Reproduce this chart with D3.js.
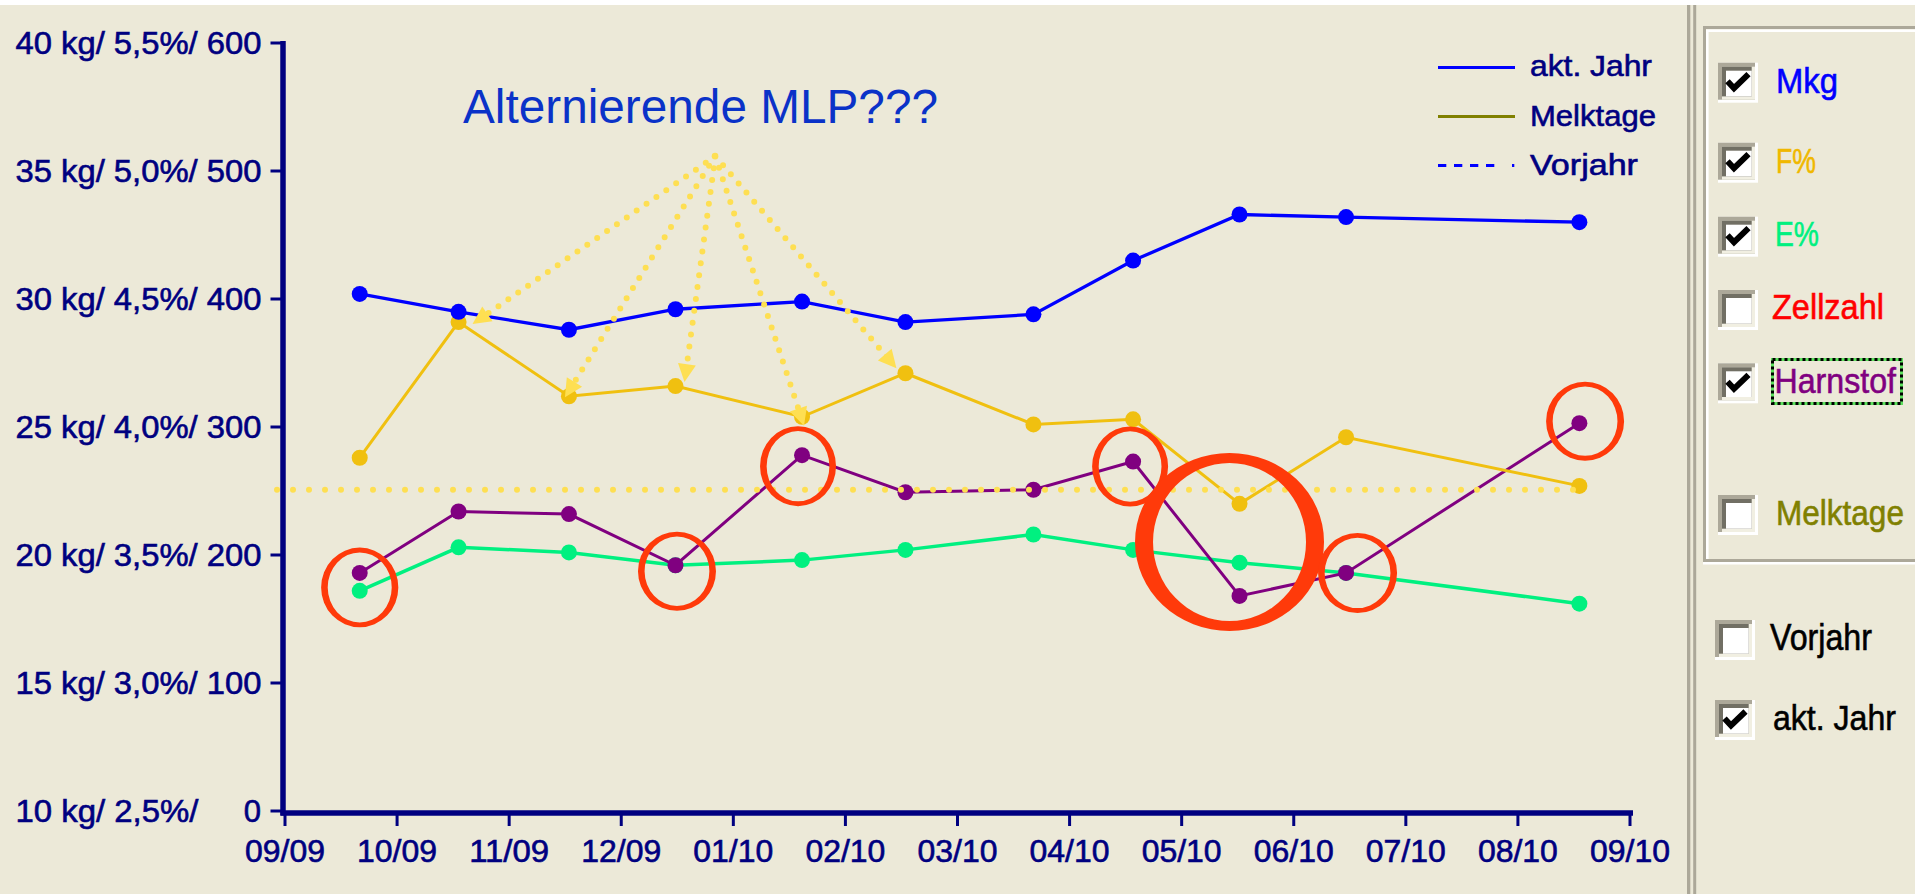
<!DOCTYPE html>
<html><head><meta charset="utf-8">
<script src="https://cdn.jsdelivr.net/npm/d3@7/dist/d3.min.js"></script>
<style>
html,body{margin:0;padding:0;background:#ECE9D8;overflow:hidden}
svg{display:block}
text{font-family:"Liberation Sans",Arial,sans-serif}
text.px{stroke-width:0.6}
</style></head><body>
<svg id="c" width="1915" height="894"></svg>
<script>
// ---------- data ----------
const sampleDates = ["2009-09-21","2009-10-18","2009-11-17","2009-12-16","2010-01-20","2010-02-16","2010-03-22","2010-04-18","2010-05-17","2010-06-15","2010-08-18"];
const mkg       = [30.2, 29.5, 28.8, 29.6, 29.9, 29.1, 29.4, 31.5, 33.3, 33.2, 33.0];
const fettPct   = [3.88, 4.41, 4.12, 4.16, 4.04, 4.21, 4.01, 4.03, 3.70, 3.96, 3.77];
const eiweissPct= [3.36, 3.53, 3.51, 3.46, 3.48, 3.52, 3.58, 3.52, 3.47, 3.43, 3.31];
const harnstoff = [186, 234, 232, 192, 278, 249, 251, 273, 168, 186, 303];
const vorjahrRef = 3.755;   // dotted reference line (% scale)
const monthLabels = ["09/09","10/09","11/09","12/09","01/10","02/10","03/10","04/10","05/10","06/10","07/10","08/10","09/10"];
const yTickKg   = [10, 15, 20, 25, 30, 35, 40];
const yTickPct  = ["2,5","3,0","3,5","4,0","4,5","5,0","5,5"];
const yTickHarn = [0, 100, 200, 300, 400, 500, 600];
const annotationText = "Alternierende MLP???";
const legendItems = ["akt. Jahr","Melktage","Vorjahr"];
const panelItems = ["Mkg","F%","E%","Zellzahl","Harnstof","Melktage"];
const panelChecked = [true,true,true,false,true,false];
const yearItems = ["Vorjahr","akt. Jahr"];
const yearChecked = [false,true];

// ---------- setup ----------
const svg = d3.select("#c");
const W = 1915, H = 894;
const navy = "#000080";
svg.append("rect").attr("width",W).attr("height",H).attr("fill","#ECE9D8");
svg.append("rect").attr("width",W).attr("height",5).attr("fill","#FFFFFF");

const parse = d3.timeParse("%Y-%m-%d");
const monthPos = s => {
  const d = parse(s), m0 = d3.timeMonth.floor(d), m1 = d3.timeMonth.offset(m0,1);
  return (d.getFullYear()-2009)*12 + d.getMonth() - 8 + (d - m0)/(m1 - m0);
};
const x = d3.scaleLinear().domain([0,12]).range([285,1630]);
const yKg = d3.scaleLinear().domain([10,40]).range([811,43]);
const yPct = d3.scaleLinear().domain([2.5,5.5]).range([811,43]);
const yHarn = d3.scaleLinear().domain([0,600]).range([811,43]);

// text squeezed horizontally to a given width (pixel-font look)
function ptext(g, t, xx, yy, size, color, len, anchor){
  const e = g.append("text").attr("class","px").attr("font-size",size)
    .attr("fill",color).attr("stroke",color).text(t);
  if (anchor) e.attr("text-anchor",anchor);
  let sx = 1;
  if (len) { const w = e.node().getComputedTextLength(); if (w>0) sx = len / w; }
  e.attr("transform",`translate(${xx},${yy}) scale(${sx},1)`);
  return e;
}

// ---------- axes ----------
const ax = svg.append("g");
ax.append("line").attr("x1",283).attr("x2",283).attr("y1",41).attr("y2",815.5)
  .attr("stroke",navy).attr("stroke-width",5.5);
ax.append("line").attr("x1",280.5).attr("x2",x(12)+3).attr("y1",813).attr("y2",813)
  .attr("stroke",navy).attr("stroke-width",5.5);
yTickHarn.forEach((v,i)=>{
  const yy = yHarn(v);
  ax.append("line").attr("x1",270.5).attr("x2",283).attr("y1",yy).attr("y2",yy)
    .attr("stroke",navy).attr("stroke-width",3);
  if (v === 0) {
    ptext(ax, yTickKg[i]+" kg/ "+yTickPct[i]+"%/", 15.5, yy+10.5, 31, navy, 183);
    ptext(ax, String(v), 261, yy+10.5, 31, navy, null, "end");
  } else {
    ptext(ax, yTickKg[i]+" kg/ "+yTickPct[i]+"%/ "+v, 15.5, yy+10.5, 31, navy, 246);
  }
});
monthLabels.forEach((lab,i)=>{
  const xx = x(i);
  ax.append("line").attr("x1",xx).attr("x2",xx).attr("y1",813).attr("y2",826)
    .attr("stroke",navy).attr("stroke-width",3);
  ptext(ax, lab, xx-40, 862, 31, navy, 80);
});

// ---------- series ----------
const series = [
  {vals: eiweissPct, y: yPct, color: "#00F080", w: 3.5},
  {vals: harnstoff,  y: yHarn, color: "#800080", w: 3},
  {vals: fettPct,    y: yPct, color: "#F0C010", w: 3},
  {vals: mkg,        y: yKg,  color: "#0000FF", w: 3.3}
];
series.forEach(s=>{
  const pts = s.vals.map((v,i)=>[x(monthPos(sampleDates[i])), s.y(v)]);
  svg.append("path").attr("d", d3.line()(pts)).attr("fill","none")
    .attr("stroke",s.color).attr("stroke-width",s.w);
  svg.append("g").selectAll("circle").data(pts).join("circle")
    .attr("cx",d=>d[0]).attr("cy",d=>d[1]).attr("r",8).attr("fill",s.color);
});

// ---------- annotations ----------
const annoYellow = "#FEDF52";
const firstX = x(0), lastX = x(monthPos(sampleDates[sampleDates.length-1]));
svg.append("line").attr("x1",firstX-8).attr("x2",lastX+1)
  .attr("y1",yPct(vorjahrRef)).attr("y2",yPct(vorjahrRef))
  .attr("stroke",annoYellow).attr("stroke-width",6).attr("stroke-linecap","round")
  .attr("stroke-dasharray","0 16");

// arrows from apex to F% points
const apex = [x(3.837), yPct(5.058)];
const arrows = [
  {idx:1, s:[-9.3,6.7],  t:[14,2]},
  {idx:2, s:[-6,9.7],    t:[-4,1]},
  {idx:3, s:[-1.3,12],   t:[9,-4]},
  {idx:4, s:[4,11.7],    t:[2,9]},
  {idx:5, s:[8,9],       t:[-9,-5]}
];
const ag = svg.append("g");
ag.append("circle").attr("cx",apex[0]).attr("cy",apex[1]).attr("r",3.3).attr("fill",annoYellow);
arrows.forEach(a=>{
  const px = x(monthPos(sampleDates[a.idx])), py = yPct(fettPct[a.idx]);
  const sx = apex[0]+a.s[0], sy = apex[1]+a.s[1];
  const tx = px+a.t[0], ty = py+a.t[1];
  const dx = tx-sx, dy = ty-sy, L = Math.hypot(dx,dy), ux = dx/L, uy = dy/L;
  const hl = 18, hw = 9;
  const bx = tx-ux*hl, by = ty-uy*hl;
  ag.append("line").attr("x1",sx).attr("y1",sy).attr("x2",bx+ux*3).attr("y2",by+uy*3)
    .attr("stroke",annoYellow).attr("stroke-width",6).attr("stroke-linecap","round")
    .attr("stroke-dasharray","0 12");
  ag.append("path").attr("d",`M${tx},${ty}L${bx-uy*hw},${by+ux*hw}L${bx+uy*hw},${by-ux*hw}Z`)
    .attr("fill",annoYellow);
});

// red rings around Harnstoff points
const rings = [
  {idx:0,  d:[0,14.5],   rx:38.6, ry:39.8, tx:6.6, ty:4.8},
  {idx:3,  d:[1.5,6],    rx:39,   ry:39.5, tx:6.6, ty:4.8},
  {idx:4,  d:[-4,11],    rx:38,   ry:40,   tx:6.6, ty:4.8},
  {idx:7,  d:[-3,5],     rx:38,   ry:40,   tx:6.6, ty:4.8},
  {idx:8,  d:[-10,-54],  rx:94.5, ry:89,   tx:18,  ty:10},
  {idx:9,  d:[11.5,0],   rx:39.5, ry:40,   tx:6.6, ty:4.8},
  {idx:10, d:[5.7,-2],   rx:39,   ry:39.5, tx:6.6, ty:4.8}
];
const ell = (cx,cy,rx,ry)=>`M${cx-rx},${cy}a${rx},${ry} 0 1,0 ${2*rx},0a${rx},${ry} 0 1,0 ${-2*rx},0Z`;
rings.forEach(r=>{
  const cx = x(monthPos(sampleDates[r.idx]))+r.d[0], cy = yHarn(harnstoff[r.idx])+r.d[1];
  svg.append("path").attr("d", ell(cx,cy,r.rx,r.ry)+ell(cx,cy,r.rx-r.tx,r.ry-r.ty))
    .attr("fill","#FF3A0A").attr("fill-rule","evenodd");
});

svg.append("text").attr("x",463).attr("y",123).attr("font-size",48).attr("fill","#0A32C8")
  .attr("textLength",475).attr("lengthAdjust","spacingAndGlyphs").text(annotationText);

// ---------- chart legend ----------
const lg = svg.append("g");
const legY = [67.5,116.5,165.5], legTxtY=[76,126,175], legW=[122,126,108];
const legColor = ["#0000FF","#808000","#0000FF"];
legendItems.forEach((t,i)=>{
  const ln = lg.append("line").attr("x1",1438).attr("x2",1515).attr("y1",legY[i]).attr("y2",legY[i])
    .attr("stroke",legColor[i]).attr("stroke-width",3);
  if (i===2) ln.attr("stroke-dasharray","8.3 7.7 8.3 7.7 8.3 7.7 8.3 17.7 2.3");
  ptext(lg, t, 1530, legTxtY[i], 30, navy, legW[i]);
});

// ---------- right panel ----------
const gray = "#ACA899";
const pn = svg.append("g");
pn.append("rect").attr("x",1687).attr("y",5).attr("width",3.3).attr("height",H).attr("fill",gray);
pn.append("rect").attr("x",1693.2).attr("y",5).attr("width",3).attr("height",H).attr("fill",gray);
// group box (etched)
pn.append("path").attr("d","M1915,27.5H1704.5V560.5H1915").attr("fill","none").attr("stroke",gray).attr("stroke-width",3);
pn.append("path").attr("d","M1915,30.8H1707.3V559").attr("fill","none").attr("stroke","#FFFFFF").attr("stroke-width",2.6);
pn.append("line").attr("x1",1703).attr("x2",1915).attr("y1",563.2).attr("y2",563.2).attr("stroke","#FFFFFF").attr("stroke-width",2.6);

function checkbox(x0,y0,checked){
  const g = pn.append("g").attr("transform",`translate(${x0},${y0})`);
  g.append("rect").attr("width",40).attr("height",40).attr("fill","#FFFFFF");
  g.append("rect").attr("width",37).attr("height",37).attr("fill",gray);
  g.append("rect").attr("x",4).attr("y",4).attr("width",33).attr("height",33).attr("fill","#F1EFE2");
  g.append("rect").attr("x",4).attr("y",4).attr("width",29.7).attr("height",29.7).attr("fill","#716F64");
  g.append("rect").attr("x",8).attr("y",8).attr("width",25.7).attr("height",25.7).attr("fill","#FFFFFF");
  if (checked) g.append("path").attr("d","M9.5,18.5L16,25.5L30.5,11.5").attr("fill","none")
    .attr("stroke","#000").attr("stroke-width",6).attr("stroke-linejoin","miter");
}
const panelBoxY = [62.7,142.7,216.7,290,363.3,495];
const panelTxtY = [93.3,172.7,246,319.3,393,525];
const panelTxtX = [1776,1776,1775,1772,1774.5,1776];
const panelTxtW = [62,40,44,112,121.5,128];
const panelColor = ["#0000FF","#F0B800","#00F080","#FF0000","#800080","#808000"];
panelItems.forEach((t,i)=>{
  checkbox(1718,panelBoxY[i],panelChecked[i]);
  ptext(pn, t, panelTxtX[i], panelTxtY[i], 36, panelColor[i], panelTxtW[i]);
});
// focus rectangle around Harnstof
pn.append("rect").attr("x",1772.5).attr("y",359.5).attr("width",129).attr("height",44)
  .attr("fill","none").attr("stroke","#5CE05C").attr("stroke-width",3);
pn.append("rect").attr("x",1772.5).attr("y",359.5).attr("width",129).attr("height",44)
  .attr("fill","none").attr("stroke","#000").attr("stroke-width",3).attr("stroke-dasharray","3 3");

const yearBoxY=[620,700], yearTxtY=[650,730], yearTxtX=[1770,1773], yearTxtW=[102,123];
yearItems.forEach((t,i)=>{
  checkbox(1715,yearBoxY[i],yearChecked[i]);
  ptext(pn, t, yearTxtX[i], yearTxtY[i], 36, "#000", yearTxtW[i]);
});
</script>
</body></html>
